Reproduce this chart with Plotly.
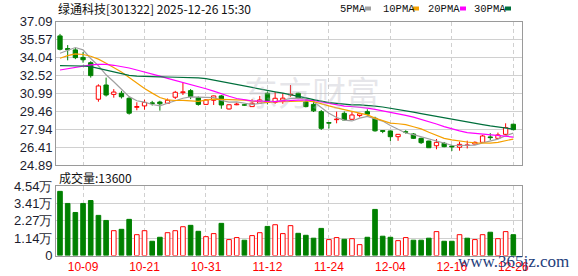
import plotly.graph_objects as go

# ---------------- data ----------------
dates = [
    "2025-09-26", "2025-09-29", "2025-09-30", "2025-10-09", "2025-10-10", "2025-10-13", "2025-10-14",
    "2025-10-15", "2025-10-16", "2025-10-17", "2025-10-20", "2025-10-21", "2025-10-22", "2025-10-23",
    "2025-10-24", "2025-10-27", "2025-10-28", "2025-10-29", "2025-10-30", "2025-10-31", "2025-11-03",
    "2025-11-04", "2025-11-05", "2025-11-06", "2025-11-07", "2025-11-10", "2025-11-11", "2025-11-12",
    "2025-11-13", "2025-11-14", "2025-11-17", "2025-11-18", "2025-11-19", "2025-11-20", "2025-11-21",
    "2025-11-24", "2025-11-25", "2025-11-26", "2025-11-27", "2025-11-28", "2025-12-01", "2025-12-02",
    "2025-12-03", "2025-12-04", "2025-12-05", "2025-12-08", "2025-12-09", "2025-12-10", "2025-12-11",
    "2025-12-12", "2025-12-15", "2025-12-16", "2025-12-17", "2025-12-18", "2025-12-19", "2025-12-22",
    "2025-12-23", "2025-12-24", "2025-12-25", "2025-12-26",
]

opens = [35.88, 34.80, 34.69, 34.05, 33.60, 30.49, 31.70, 30.90, 31.00, 30.57,
         29.80, 29.92, 30.18, 30.25, 30.15, 30.66, 31.05, 31.22, 30.62, 30.05,
         30.40, 30.77, 29.66, 30.02, 30.02, 29.86, 30.14, 31.00, 30.23, 30.40,
         30.85, 31.00, 30.28, 30.05, 29.43, 28.50, 28.75, 29.29, 28.78, 29.10,
         29.43, 28.87, 27.82, 27.79, 27.30, 27.72, 27.53, 27.16, 26.93, 26.53,
         26.74, 26.50, 26.40, 26.55, 26.67, 26.82, 27.28, 27.16, 27.50, 28.36]
highs = [36.05, 35.10, 34.85, 34.50, 33.72, 31.76, 32.33, 31.35, 31.20, 30.72,
         30.23, 30.45, 30.35, 30.36, 30.55, 31.20, 31.91, 31.35, 30.72, 30.50,
         30.80, 30.85, 30.05, 30.20, 30.08, 30.50, 30.77, 31.15, 31.10, 31.00,
         31.70, 31.05, 30.50, 30.50, 29.57, 28.52, 29.43, 29.45, 29.43, 29.30,
         29.63, 29.00, 27.87, 27.82, 27.52, 27.85, 27.60, 27.22, 26.95, 27.10,
         26.85, 26.60, 26.87, 26.96, 26.90, 27.45, 27.60, 27.65, 28.44, 28.40]
lows = [34.65, 33.80, 33.90, 33.60, 32.33, 30.28, 30.72, 30.62, 30.55, 29.18,
        29.55, 29.60, 29.95, 29.52, 30.10, 30.50, 30.85, 30.50, 29.94, 30.00,
        30.00, 29.68, 29.62, 29.98, 29.93, 29.86, 30.10, 30.05, 30.10, 30.10,
        30.70, 30.50, 29.80, 29.40, 27.87, 28.00, 28.44, 28.68, 28.72, 28.95,
        29.10, 27.73, 27.60, 26.93, 26.95, 27.55, 27.10, 26.68, 26.34, 26.23,
        26.40, 26.08, 26.11, 26.30, 26.65, 26.80, 27.02, 27.10, 27.45, 27.85]
closes = [34.74, 34.70, 34.03, 33.85, 32.50, 31.62, 30.85, 31.10, 30.70, 29.30,
          29.87, 30.22, 30.12, 30.10, 30.40, 31.08, 31.12, 30.72, 30.05, 30.43,
          30.77, 30.00, 30.02, 30.08, 29.98, 30.15, 30.43, 30.30, 30.57, 30.58,
          30.92, 30.57, 29.86, 29.50, 28.01, 28.45, 28.80, 28.72, 29.15, 29.25,
          29.22, 27.80, 27.75, 27.30, 27.50, 27.68, 27.16, 26.79, 26.36, 26.82,
          26.45, 26.43, 26.65, 26.60, 26.82, 27.36, 27.22, 27.45, 28.07, 27.90]

volumes = [41900, 34000, 28100, 34000, 35900, 26200, 22900, 16200, 17100, 23600,
           13600, 16200, 9300, 11900, 14900, 16200, 18800, 19700, 15800, 12300,
           14300, 21000, 10400, 11700, 10000, 13000, 14900, 19000, 20100, 14300,
           19500, 14500, 13200, 11300, 17700, 10400, 11700, 10600, 11000, 7100,
           11900, 30100, 12600, 11900, 9700, 11700, 10000, 10000, 11300, 15600,
           9300, 9300, 13600, 11300, 10400, 13600, 15200, 11000, 15600, 13600]

ma5 = [34.40, 34.65, 34.89, 34.69, 33.96, 33.34, 32.57, 31.98, 31.35, 30.71,
       30.36, 30.24, 30.04, 29.93, 30.15, 30.39, 30.57, 30.69, 30.67, 30.68,
       30.62, 30.39, 30.25, 30.26, 30.17, 30.04, 30.13, 30.19, 30.29, 30.40,
       30.56, 30.59, 30.50, 30.28, 29.77, 29.29, 28.93, 28.71, 28.64, 28.88,
       29.03, 28.83, 28.63, 28.26, 27.91, 27.61, 27.48, 27.29, 27.10, 26.96,
       26.72, 26.57, 26.55, 26.59, 26.59, 26.78, 26.93, 27.09, 27.38, 27.60]
ma10 = [33.98, 34.20, 34.35, 34.30, 34.15, 33.90, 33.55, 33.20, 32.80, 32.34,
        31.85, 31.40, 31.01, 30.64, 30.43, 30.38, 30.40, 30.37, 30.30, 30.41,
        30.50, 30.48, 30.47, 30.47, 30.42, 30.33, 30.26, 30.22, 30.27, 30.29,
        30.30, 30.36, 30.34, 30.29, 30.09, 29.92, 29.76, 29.60, 29.46, 29.33,
        29.16, 28.88, 28.67, 28.45, 28.40, 28.32, 28.15, 27.96, 27.68, 27.44,
        27.16, 27.03, 26.92, 26.85, 26.78, 26.75, 26.75, 26.82, 26.99, 27.10]
ma20 = [32.98, 33.10, 33.22, 33.33, 33.42, 33.45, 33.45, 33.38, 33.28, 33.15,
        32.98, 32.82, 32.65, 32.45, 32.27, 32.10, 31.92, 31.74, 31.56, 31.38,
        31.18, 30.94, 30.74, 30.55, 30.43, 30.35, 30.33, 30.29, 30.29, 30.35,
        30.40, 30.42, 30.41, 30.38, 30.26, 30.13, 30.01, 29.91, 29.87, 29.81,
        29.73, 29.62, 29.51, 29.37, 29.24, 29.12, 28.96, 28.78, 28.57, 28.38,
        28.16, 27.95, 27.79, 27.65, 27.59, 27.53, 27.45, 27.39, 27.34, 27.27]
ma30 = [33.35, 33.35, 33.35, 33.32, 33.26, 33.10, 32.95, 32.78, 32.62, 32.52,
        32.46, 32.42, 32.41, 32.40, 32.38, 32.37, 32.36, 32.35, 32.30, 32.25,
        32.12, 31.99, 31.85, 31.72, 31.60, 31.50, 31.37, 31.25, 31.12, 31.01,
        30.89, 30.75, 30.61, 30.46, 30.31, 30.21, 30.14, 30.06, 30.01, 30.01,
        29.99, 29.91, 29.83, 29.73, 29.64, 29.52, 29.39, 29.26, 29.14, 29.02,
        28.87, 28.75, 28.64, 28.53, 28.42, 28.33, 28.22, 28.13, 28.04, 27.95]

price_ticks = [24.89, 26.41, 27.94, 29.46, 30.99, 32.52, 34.04, 35.57, 37.09]
vol_tick_vals = [0, 11350, 22700, 34050, 45400]
vol_tick_text = ["0", "1.14万", "2.27万", "3.41万", "4.54万"]
date_tick_labels = ["10-09", "10-21", "10-31", "11-12", "11-24", "12-04", "12-16", "12-26"]

title_text = "绿通科技[301322] 2025-12-26 15:30"
vol_title = "成交量:13600"
ma_names = ["5PMA", "10PMA", "20PMA", "30PMA"]

# ---------------- style ----------------
W, H = 578, 276
RED = "#ff0000"
GREEN = "#008000"
MA_COLORS = ["#a0a0a0", "#f5a000", "#ff00ff", "#006f3c"]
GRID = "#d0d0d0"
FRAME = "#9a9a9a"
LBL = "#1c1c2e"

PX_L, PX_R = 56, 522
P_TOP, P_BOT = 21.7, 165
V_TOP, V_BOT = 186, 255.5


def fx(px):
    return px / W


def fy(py):
    return 1 - py / H


x = list(range(len(dates)))
short = [d[5:] for d in dates]
tick_pos = [short.index(t) for t in date_tick_labels]

up = [c >= o for o, c in zip(opens, closes)]
body_base = [min(o, c) for o, c in zip(opens, closes)]
body_h = [max(abs(c - o), 0.03) for o, c in zip(opens, closes)]

vol_up = [closes[i] >= closes[i - 1] if i > 0 else up[0] for i in range(len(closes))]

fig = go.Figure()

# candle bodies
fig.add_trace(go.Bar(
    x=x, y=body_h, base=body_base, width=0.56,
    marker=dict(color=["white" if u else GREEN for u in up],
                line=dict(color=[RED if u else GREEN for u in up], width=1)),
    xaxis="x", yaxis="y", hoverinfo="skip", showlegend=False,
))

# wicks (upper and lower parts, so hollow bodies stay hollow)
for is_up, col in [(True, RED), (False, GREEN)]:
    wx, wy = [], []
    for i in x:
        if up[i] != is_up:
            continue
        top = max(opens[i], closes[i])
        bot = min(opens[i], closes[i])
        wx += [i, i, None, i, i, None]
        wy += [top, highs[i], None, lows[i], bot, None]
    fig.add_trace(go.Scatter(x=wx, y=wy, mode="lines", line=dict(color=col, width=1),
                             xaxis="x", yaxis="y", hoverinfo="skip", showlegend=False))

# moving averages
for ma, col in zip([ma5, ma10, ma20, ma30], MA_COLORS):
    fig.add_trace(go.Scatter(x=x, y=ma, mode="lines", line=dict(color=col, width=1.2),
                             xaxis="x", yaxis="y", hoverinfo="skip", showlegend=False))

# volume
fig.add_trace(go.Bar(
    x=x, y=volumes, width=0.6,
    marker=dict(color=["white" if u else GREEN for u in vol_up],
                line=dict(color=[RED if u else GREEN for u in vol_up], width=1)),
    xaxis="x2", yaxis="y2", hoverinfo="skip", showlegend=False,
))

xr = [-0.52, 60.13]
xcommon = dict(range=xr, tickvals=tick_pos, showgrid=True, gridcolor=GRID, griddash="4px,3px",
               gridwidth=1, zeroline=False, showline=True, mirror=True, linecolor=FRAME,
               linewidth=1, ticks="", domain=[fx(PX_L), fx(PX_R)], fixedrange=True)
ycommon = dict(showgrid=True, gridcolor=GRID, gridwidth=1, zeroline=False, showline=True,
               mirror=True, linecolor=FRAME, linewidth=1, ticks="",
               tickfont=dict(family="Liberation Sans", size=13, color=LBL), fixedrange=True)

fig.update_layout(
    width=W, height=H, margin=dict(l=0, r=0, t=0, b=0), autosize=False,
    template="none", paper_bgcolor="white", plot_bgcolor="white",
    barmode="overlay", showlegend=False,
    xaxis=dict(**xcommon, anchor="y", showticklabels=False),
    yaxis=dict(**ycommon, domain=[fy(P_BOT), fy(P_TOP)], range=[price_ticks[0], price_ticks[-1]],
               tickvals=price_ticks, ticktext=["%.2f" % v for v in price_ticks], anchor="x"),
    xaxis2=dict(**xcommon, anchor="y2", showticklabels=True,
                ticktext=date_tick_labels,
                tickfont=dict(family="Liberation Sans", size=12, color=RED)),
    yaxis2=dict(**ycommon, domain=[fy(V_BOT), fy(V_TOP)], range=[0, vol_tick_vals[-1]],
                tickvals=vol_tick_vals, ticktext=vol_tick_text, anchor="x2"),
)

ann = []
ann.append(dict(text=title_text, x=fx(56), y=fy(8.5), xref="paper", yref="paper",
                xanchor="left", yanchor="middle", showarrow=False,
                font=dict(family="Noto Sans CJK SC", size=12, color="#111111")))
ann.append(dict(text=vol_title, x=fx(57), y=fy(177), xref="paper", yref="paper",
                xanchor="left", yanchor="middle", showarrow=False,
                font=dict(family="Noto Sans CJK SC", size=12, color="#111111")))

leg_x = [338, 381, 426, 472]
sq_x = [365, 413, 460, 505]
shapes = []
for name, lx, sx, col in zip(ma_names, leg_x, sq_x, MA_COLORS):
    ann.append(dict(text=name, x=fx(lx), y=fy(8.5), xref="paper", yref="paper",
                    xanchor="left", yanchor="middle", showarrow=False,
                    font=dict(family="Liberation Mono", size=10.5, color="#111111")))
    shapes.append(dict(type="rect", xref="paper", yref="paper",
                       x0=fx(sx), x1=fx(sx + 6), y0=fy(10.5), y1=fy(6.5),
                       fillcolor=col, line=dict(width=0)))

# watermarks
ann.append(dict(text="东方财富", x=fx(312), y=fy(92), xref="paper", yref="paper",
                xanchor="center", yanchor="middle", showarrow=False,
                font=dict(family="Noto Sans CJK SC", size=34, color="rgba(185,185,195,0.35)")))
ann.append(dict(text="www.365jz.com", x=fx(513), y=fy(261), xref="paper", yref="paper",
                xanchor="center", yanchor="middle", showarrow=False,
                font=dict(family="Liberation Serif", size=17, color="#1e3d7b")))

fig.update_layout(annotations=ann, shapes=shapes)

fig.write_html("out.html")
